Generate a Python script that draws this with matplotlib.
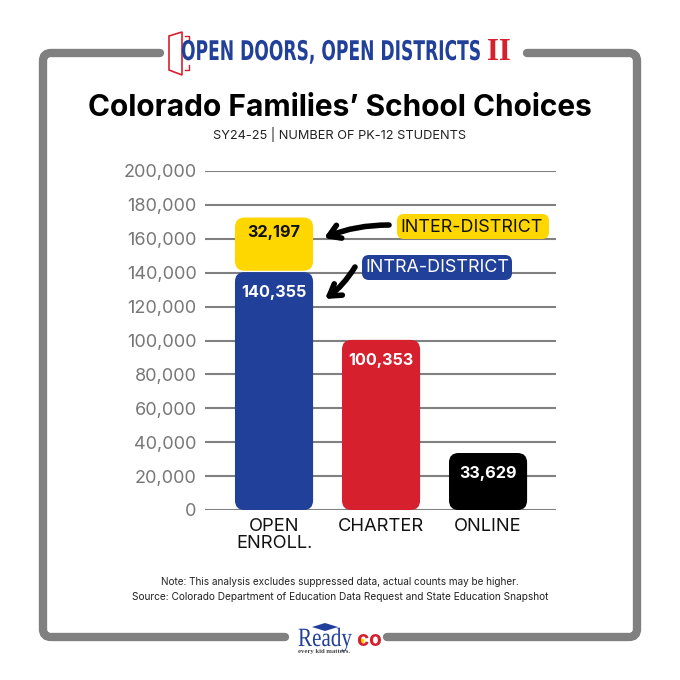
import matplotlib
matplotlib.use('Agg')
import matplotlib.pyplot as plt
from matplotlib.patches import FancyBboxPatch, Polygon, PathPatch, Circle
from matplotlib.path import Path
from matplotlib.patheffects import AbstractPathEffect
from matplotlib.transforms import Affine2D

plt.rcParams['font.family'] = ['Inter', 'Open Sans', 'DejaVu Sans']

categories = ['OPEN\nENROLL.', 'CHARTER', 'ONLINE']
intra_values = [140355, 100353, 33629]
inter_values = [32197]
bar_colors = ['#21409a', '#d7202e', '#000000']
y_ticks = [0, 20000, 40000, 60000, 80000, 100000, 120000, 140000, 160000, 180000, 200000]

GRAY = '#808080'
BLUE = '#21409a'
RED = '#d7202e'
YELLOW = '#ffd700'
SERIF = ['Liberation Serif', 'DejaVu Serif']


# no condensed font installed, so squeeze the glyphs sideways around the text origin
class Squeeze(AbstractPathEffect):
    def __init__(self, sx, x0_px):
        super().__init__()
        self.sx = sx
        self.x0 = x0_px

    def draw_path(self, renderer, gc, tpath, affine, rgbFace=None):
        squeeze = Affine2D().translate(-self.x0, 0).scale(self.sx, 1).translate(self.x0, 0)
        renderer.draw_path(gc, tpath, affine + squeeze, rgbFace)


fig = plt.figure(figsize=(6.8, 6.8), dpi=100, facecolor='white')

# overlay in pixel coords for the frame, header and footer
px = fig.add_axes([0, 0, 1, 1], zorder=0)
px.set_xlim(0, 680)
px.set_ylim(680, 0)
px.axis('off')


def frame_side(x_end_top, x_side, x_end_bottom):
    # one side of the frame: top stub, rounded corner, side, rounded corner, bottom stub
    d = 8 if x_side < x_end_top else -8
    verts = [(x_end_top, 53), (x_side + d, 53), (x_side, 53), (x_side, 53 + 8),
             (x_side, 637 - 8), (x_side, 637), (x_side + d, 637), (x_end_bottom, 637)]
    codes = [Path.MOVETO, Path.LINETO, Path.CURVE3, Path.CURVE3,
             Path.LINETO, Path.CURVE3, Path.CURVE3, Path.LINETO]
    px.add_patch(PathPatch(Path(verts, codes), fill=False, ec=GRAY, lw=6, capstyle='round'))


frame_side(160, 43, 285)
frame_side(527, 637, 387)

# door icon
px.add_patch(Polygon([(169, 36), (182, 32), (182, 75), (169, 70)], closed=True, fill=False, ec=RED, lw=1.2))
px.plot([185, 189, 189], [36, 36, 41], color=RED, lw=1)
px.plot([185, 189, 189], [70, 70, 65], color=RED, lw=1)

px.text(181, 53, 'OPEN DOORS, OPEN DISTRICTS', family='DejaVu Sans', weight='bold', fontsize=19.5,
        color=BLUE, va='center', ha='left', path_effects=[Squeeze(0.632, 181)])
px.text(487, 53, 'II', family=SERIF, weight='bold', fontsize=22, color=RED, va='center', ha='left')

px.text(340, 108, 'Colorado Families\u2019 School Choices', fontsize=21.5, weight='bold',
        color='black', ha='center', va='center')
px.text(340, 134, 'SY24-25 | NUMBER OF PK-12 STUDENTS', fontsize=9.2, color='#222222',
        ha='center', va='center')

px.text(340, 582, 'Note: This analysis excludes suppressed data, actual counts may be higher.',
        fontsize=7.2, color='#222222', ha='center', va='center')
px.text(340, 597, 'Source: Colorado Department of Education Data Request and State Education Snapshot',
        fontsize=7.3, color='#222222', ha='center', va='center')

# ready co logo
px.text(298, 646, 'Ready', family=SERIF, fontsize=19, color=BLUE, ha='left', va='baseline',
        path_effects=[Squeeze(0.8, 298)])
px.text(362, 640, 'c', fontsize=15, weight='bold', color=RED, ha='center', va='center')
px.add_patch(Circle((362, 641), 2.5, fc=YELLOW, ec='none'))
px.text(375, 640, 'o', fontsize=15, weight='bold', color=RED, ha='center', va='center')
px.text(298, 651, 'every kid matters.', family=SERIF, fontsize=4.8, weight='bold',
        color='#444444', ha='left', va='center')
px.add_patch(Polygon([(312, 627), (325, 623), (338, 627), (325, 631)], closed=True, fc=BLUE, ec='none'))

# chart axes
ax = fig.add_axes([205 / 680, 170 / 680, 351 / 680, 339 / 680], zorder=1)
ax.patch.set_alpha(0)
ax.set_xlim(-0.645, 2.635)
ax.set_ylim(0, 200000)
for s in ax.spines.values():
    s.set_visible(False)
ax.set_yticks(y_ticks)
ax.set_yticklabels([f'{v:,}' for v in y_ticks], fontsize=13, color='#777777')
ax.tick_params(axis='y', length=0, pad=6)
ax.set_xticks(range(len(categories)))
ax.set_xticklabels(categories, fontsize=13.2, color='#111111', linespacing=1.0)
ax.tick_params(axis='x', length=0, pad=6)
ax.grid(axis='y', color=GRAY, lw=1.5, zorder=0)
ax.set_axisbelow(True)

BAR_W = 0.73
RX = 0.09
# y units per x unit, so the corners come out round on screen
aspect = (200000 / 339) / (3.28 / 351)


def round_bar(x, y0, h, color):
    ax.add_patch(FancyBboxPatch((x - BAR_W / 2, y0), BAR_W, h,
                                boxstyle=f'round,pad=0,rounding_size={RX}',
                                mutation_aspect=aspect, fc=color, ec='none', zorder=2))


for i, v in enumerate(intra_values):
    round_bar(i, 0, v, bar_colors[i])
    ax.text(i, v - 12000, f'{v:,}', color='white', fontsize=11.7, weight='bold',
            ha='center', va='center', zorder=3)

round_bar(0, intra_values[0] + 800, inter_values[0] - 800, YELLOW)
ax.text(0, intra_values[0] + inter_values[0] - 9000, f'{inter_values[0]:,}', color='#111111',
        fontsize=11.7, weight='bold', ha='center', va='center', zorder=3)

# callouts
px2 = fig.add_axes([0, 0, 1, 1], zorder=2)
px2.set_xlim(0, 680)
px2.set_ylim(680, 0)
px2.axis('off')

px2.add_patch(FancyBboxPatch((397, 214), 152, 25, boxstyle='round,pad=0,rounding_size=7', fc=YELLOW, ec='none'))
px2.text(472, 227, 'INTER-DISTRICT', fontsize=12.9, color='#111111', ha='center', va='center')
px2.add_patch(FancyBboxPatch((362, 255), 150, 25, boxstyle='round,pad=0,rounding_size=7', fc=BLUE, ec='none'))
px2.text(437, 268, 'INTRA-DISTRICT', fontsize=12.9, color='white', ha='center', va='center')

px2.annotate('', xy=(324, 238), xytext=(389, 225),
             arrowprops=dict(arrowstyle='->,head_length=0.8,head_width=0.5', color='black', lw=4,
                             connectionstyle='arc3,rad=0.1', shrinkA=0, shrinkB=0))
px2.annotate('', xy=(325, 299), xytext=(355, 267),
             arrowprops=dict(arrowstyle='->,head_length=0.8,head_width=0.5', color='black', lw=4,
                             connectionstyle='arc3,rad=-0.1', shrinkA=0, shrinkB=0))

fig.savefig('out.png', dpi=100)
